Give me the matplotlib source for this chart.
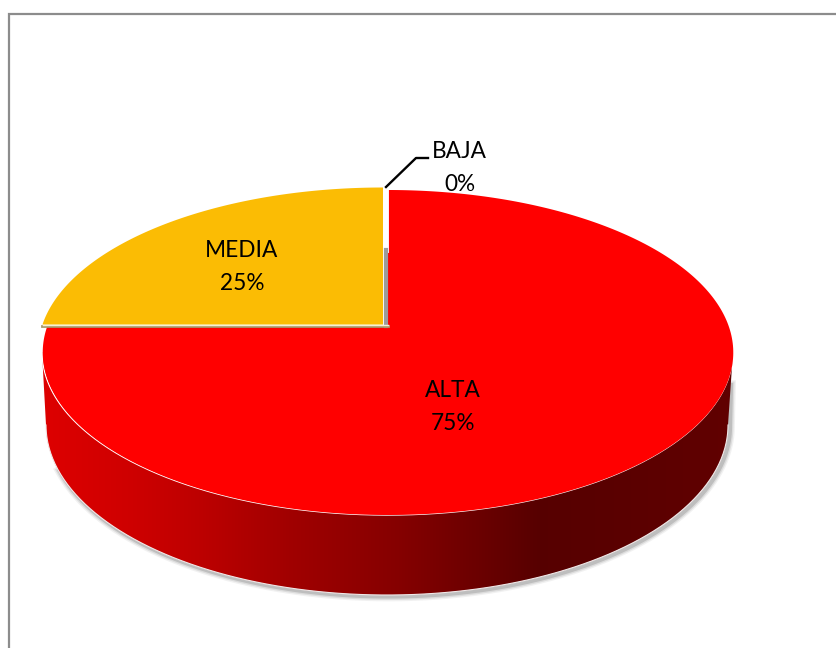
import matplotlib
matplotlib.use("Agg")
import matplotlib.pyplot as plt
import numpy as np
from matplotlib.patches import Polygon

categories = ["ALTA", "MEDIA", "BAJA"]
shares = [75, 25, 0]
colors = ["#FF0000", "#FBBC04", "#4472C4"]

# pie geometry in pixels
top_y = 190
bottom_y = 515
apex_y = 327
half_w = 341

# side wall shading (x px, red level)
grad_x = [42, 130, 200, 290, 400, 540, 600, 733]
grad_r = [0.87, 0.81, 0.74, 0.63, 0.52, 0.34, 0.35, 0.38]


def project(angle_deg, cx, cy, wid=half_w):
    # circle to tilted ellipse, with the centre off the middle like in a 3D view
    u = np.cos(np.radians(angle_deg))
    v = np.sin(np.radians(angle_deg))
    c = (top_y + bottom_y - 2 * apex_y) / (bottom_y - top_y)
    a = top_y * (1 + c) - apex_y - apex_y * c
    x = cx + wid * u / (c * v + 1)
    y = cy + a * v / (c * v + 1)
    return x, y


def wedge(start, share, cx, cy, wid=half_w):
    ang = np.linspace(start, start - 360 * share / 100, 300)
    x, y = project(ang, cx, cy, wid)
    return np.column_stack([np.r_[cx, x], np.r_[cy, y]])


fig = plt.figure(figsize=(8.36, 6.48), dpi=100)
ax = fig.add_axes([0, 0, 1, 1])

# chart frame
ax.plot([9, 9, 836], [648, 14, 14], color="#8C8C8C", lw=1.6, solid_joinstyle="miter")

# bottom ellipse for the wall
t = np.linspace(0, 180, 300)
wall_x = 387 - 341 * np.cos(np.radians(t))
wall_y = 425 + 170 * np.sin(np.radians(t))

# soft shadow, only below and to the right
keep = t > 15
sh_x = np.r_[wall_x[keep] + 2, 731]
sh_y = np.r_[wall_y[keep] + 1.5, 385]
for lw, al in [(7, 0.08), (5, 0.13), (3, 0.22)]:
    ax.plot(sh_x, sh_y, color="#555555", lw=lw, alpha=al, zorder=1)

wall = Polygon(np.column_stack([np.r_[42, wall_x, 733], np.r_[352, wall_y, 352]]),
               closed=True, fc="none", ec="none", transform=ax.transData)
ax.add_patch(wall)
xx = np.arange(30, 750)
shade = np.zeros((1, len(xx), 3))
shade[0, :, 0] = np.interp(xx, grad_x, grad_r)
im = ax.imshow(shade, extent=[30, 750, 600, 340], aspect="auto", zorder=2, interpolation="bilinear")
im.set_clip_path(wall)
ax.plot(wall_x, wall_y, color="#F0E8E8", lw=0.8, zorder=3)

# top face, white rim first
rx, ry = project(np.linspace(0, 360, 600), 387.5, apex_y)
ax.plot(rx[rx > 0], ry[rx > 0], color="white", lw=1.0, zorder=3)

start = 90
for i, cat in enumerate(categories):
    if shares[i] == 0:
        continue
    if cat == "MEDIA":
        # MEDIA ends at the top, so it starts further round
        pts = wedge(90 + 360 * shares[i] / 100, shares[i], 383, 324.5, 340.5)
        # gap and cut faces under the slice
        ax.plot([385.5, 385.5], [188, 250], color="white", lw=3.5, zorder=5)
        ax.plot([385.5, 385.5], [250, 326], color="#9C9C9C", lw=3, zorder=5)
        ax.plot([42, 388], [326, 326], color="#A89868", lw=2, zorder=5)
        ax.plot([43, 388], [324.7, 324.7], color="#F5EFD8", lw=1, zorder=6)
        ax.add_patch(Polygon(pts, closed=True, fc=colors[i], ec="none", zorder=6))
    else:
        pts = wedge(start, shares[i], 388, apex_y, half_w)
        ax.add_patch(Polygon(pts, closed=True, fc=colors[i], ec="none", zorder=4))

# labels
font = "Lato"
label_pos = {"ALTA": (453, 407), "MEDIA": (242, 267), "BAJA": (459.5, 168)}
for cat, s in zip(categories, shares):
    x, y = label_pos[cat]
    ax.text(x, y, f"{cat}\n{s}%", ha="center", va="center", fontsize=16.3,
            family=font, color="black", linespacing=1.72, zorder=8)

# leader for BAJA
ax.plot([386, 416, 428], [187, 158, 158], color="black", lw=1.7, zorder=8)

ax.set_xlim(0, 836)
ax.set_ylim(648, 0)
ax.axis("off")
fig.savefig("out.png", dpi=100, facecolor="white")
